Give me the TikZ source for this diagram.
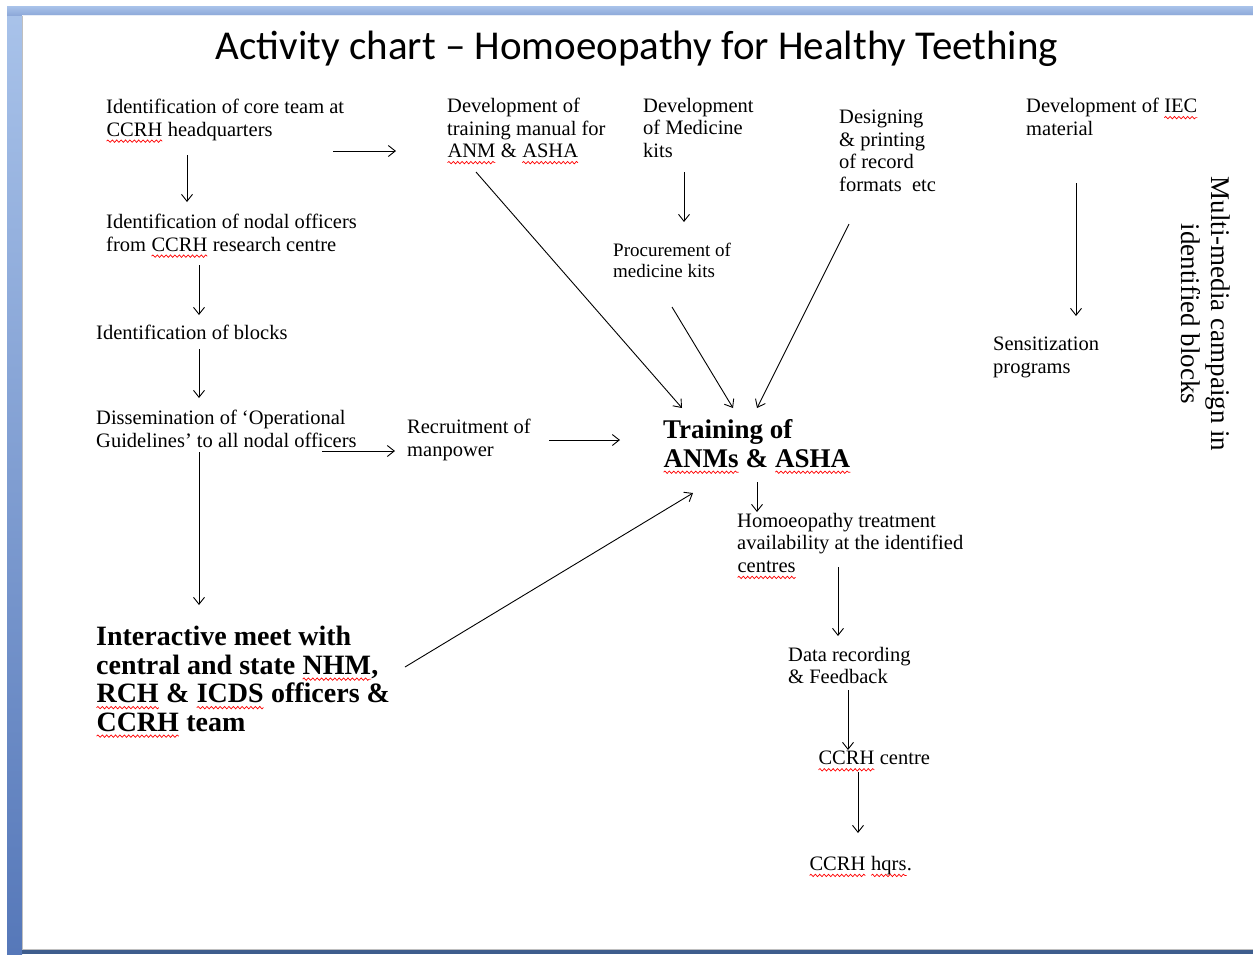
\documentclass[tikz,border=0pt]{standalone}
\usepackage{fontspec}
\setmainfont{Liberation Serif}
\newfontfamily\titlefont{Carlito}
\usetikzlibrary{arrows.meta,decorations.pathmorphing}
\definecolor{bandlight}{HTML}{A9C3EA}
\definecolor{banddark}{HTML}{5678B9}
\definecolor{bandtop}{HTML}{8EA9D9}
\definecolor{bandfoot}{HTML}{3E5D8D}
\newcommand\wv[1]{\tikz[baseline=(w.base)]{\node[inner sep=0pt, outer sep=0pt] (w) {#1};
	\draw[red, line width=0.7pt, decorate, decoration={snake, amplitude=1.2pt, segment length=4.4pt}] ([yshift=-5pt]w.base west) -- ([yshift=-5pt]w.base east);}}

\begin{document}
\begin{tikzpicture}[x=1pt,y=-1pt,
	txt/.style={anchor=north west, inner sep=0pt, align=left, font=\fontsize{20.5}{22.5}\selectfont},
	smalltxt/.style={txt, font=\fontsize{19}{20.5}\selectfont},
	bigtxt/.style={txt, font=\fontsize{28}{28.5}\selectfont\bfseries},
	arr/.style={-{Straight Barb[length=7pt,width=11pt]}, line width=0.9pt}]
			%%%%% FRAME %%%%%
			
			\useasboundingbox (0,0) rectangle (1253,954);
			\fill[white] (0,0) rectangle (1253,954);
			\shade[top color=bandlight, bottom color=banddark] (7,6) rectangle (22,954);
			\shade[top color=bandlight, bottom color=bandtop] (7,6) rectangle (1253,15);
			\fill[bandfoot] (22,949) rectangle (1253,954);
			\draw[black!25, line width=0.8pt] (22,15) -- (22,949) -- (1253,949);
			\draw[white!80!bandtop, line width=0.8pt] (22,15.5) -- (1253,15.5);
			
			%%%%% TITLE %%%%%
			
			\node[anchor=base, inner sep=0pt, font=\titlefont\fontsize{41}{45}\selectfont] (title) at (637,59) {Activity chart – Homoeopathy for Healthy Teething};
			
			%%%%% LEFT COLUMN %%%%%
			
			\node[txt] (core) at (106,99) {Identification of core team at\\\wv{CCRH} headquarters};
			\node[txt] (nodal) at (106,214) {Identification of nodal officers\\from \wv{CCRH} research centre};
			\node[txt] (blocks) at (96,325) {Identification of blocks};
			\node[txt] (dissem) at (96,410) {Dissemination of ‘Operational\\Guidelines’ to all nodal officers};
			\node[txt] (recruit) at (407,419) {Recruitment of\\manpower};
			\node[bigtxt] (meet) at (96,626) {Interactive meet with\\central and state \wv{NHM},\\\wv{RCH} \& \wv{ICDS} officers \&\\\wv{CCRH} team};
			
			%%%%% TOP ROW %%%%%
			
			\node[txt] (manual) at (447,98) {Development of\\training manual for\\\wv{ANM} \& \wv{ASHA}};
			\node[txt] (medkits) at (643,98) {Development\\of Medicine\\kits};
			\node[smalltxt] (procure) at (613,243) {Procurement of\\medicine kits};
			\node[txt] (design) at (839,110) {Designing\\\& printing\\of record\\formats\ \ etc};
			\node[txt] (iec) at (1026,98) {Development of \wv{IEC}\\material};
			\node[txt] (sensit) at (993,337) {Sensitization\\programs};
			\node[inner sep=0pt, align=center, rotate=-90, font=\fontsize{27}{30}\selectfont] (media) at (1206,314) {Multi-media campaign in\\identified blocks};
			
			%%%%% TRAINING AND AFTER %%%%%
			
			\node[txt, font=\fontsize{27}{29}\selectfont\bfseries] (train) at (663,419) {Training of\\\wv{ANMs} \& \wv{ASHA}};
			\node[txt] (treat) at (737,513) {Homoeopathy treatment\\availability at the identified\\\wv{centres}};
			\node[txt] (data) at (788,647) {Data recording\\\& Feedback};
			\node[txt] (centre) at (818,751) {\wv{CCRH} centre};
			\node[txt] (hqrs) at (809,856) {\wv{CCRH} \wv{hqrs}.};
			
			%%%%% ARROWS %%%%%
			
			\draw[arr] ([xshift=227pt,yshift=-52pt]core.north west) -- ([xshift=-51pt,yshift=-53pt]manual.north west);
			\draw[arr] ([xshift=81pt,yshift=-56pt]core.north west) -- ([xshift=81pt,yshift=12pt]nodal.north west);
			\draw[arr] ([xshift=93pt,yshift=-51pt]nodal.north west) -- ([xshift=103pt,yshift=10pt]blocks.north west);
			\draw[arr] ([xshift=103pt,yshift=-24pt]blocks.north west) -- ([xshift=103pt,yshift=12pt]dissem.north west);
			\draw[arr] ([xshift=103pt,yshift=-42pt]dissem.north west) -- ([xshift=103pt,yshift=21pt]meet.north west);
			\draw[arr] ([xshift=226pt,yshift=-41pt]dissem.north west) -- ([xshift=-12pt,yshift=-32pt]recruit.north west);
			\draw[arr] ([xshift=142pt,yshift=-21pt]recruit.north west) -- ([xshift=-43pt,yshift=-21pt]train.north west);
			\draw[arr] ([xshift=309pt,yshift=-41pt]meet.north west) -- ([xshift=30pt,yshift=-74pt]train.north west);
			
			\draw[arr] ([xshift=29pt,yshift=-74pt]manual.north west) -- ([xshift=19pt,yshift=11pt]train.north west);
			\draw[arr] ([xshift=41pt,yshift=-74pt]medkits.north west) -- ([xshift=71pt,yshift=21pt]procure.north west);
			\draw[arr] ([xshift=59pt,yshift=-64pt]procure.north west) -- ([xshift=70pt,yshift=11pt]train.north west);
			\draw[arr] ([xshift=10pt,yshift=-114pt]design.north west) -- ([xshift=94pt,yshift=11pt]train.north west);
			\draw[arr] ([xshift=50pt,yshift=-85pt]iec.north west) -- ([xshift=83pt,yshift=21pt]sensit.north west);
			
			\draw[arr] ([xshift=94pt,yshift=-63pt]train.north west) -- ([xshift=20pt,yshift=1pt]treat.north west);
			\draw[arr] ([xshift=101pt,yshift=-54pt]treat.north west) -- ([xshift=50pt,yshift=11pt]data.north west);
			\draw[arr] ([xshift=60pt,yshift=-43pt]data.north west) -- ([xshift=30pt,yshift=1pt]centre.north west);
			\draw[arr] ([xshift=40pt,yshift=-21pt]centre.north west) -- ([xshift=49pt,yshift=23pt]hqrs.north west);
			
			%%%%% END %%%%%
\end{tikzpicture}
\end{document}
